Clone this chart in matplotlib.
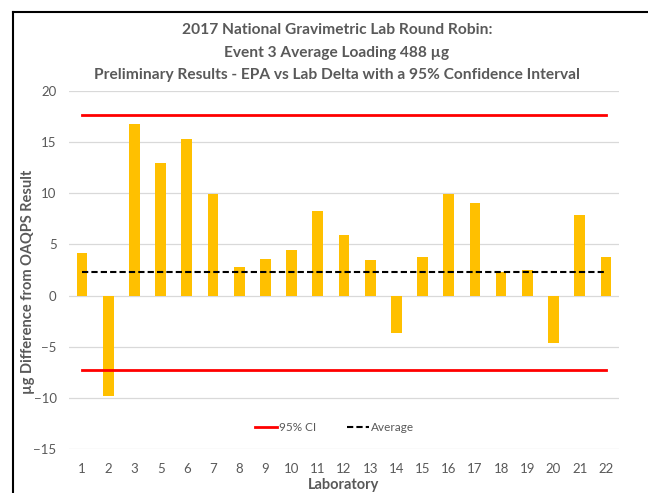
import matplotlib
matplotlib.use("Agg")
import matplotlib.pyplot as plt
from matplotlib.lines import Line2D

plt.rcParams['font.family'] = ['Lato', 'DejaVu Sans']

# data
labs = ['1', '2', '3', '5', '6', '7', '8', '9', '10', '11', '12',
        '13', '14', '15', '16', '17', '18', '19', '20', '21', '22']
delta = [4.2, -9.8, 16.8, 13.0, 15.3, 9.9, 2.75, 3.6, 4.5, 8.3, 5.95,
         3.5, -3.7, 3.75, 9.9, 9.1, 2.35, 2.5, -4.6, 7.9, 3.8]
ci_upper = 17.7
ci_lower = -7.3
average = 2.3

titles = ['2017 National Gravimetric Lab Round Robin:',
          'Event 3 Average Loading 488 \u00b5g',
          'Preliminary Results - EPA vs Lab Delta with a 95% Confidence Interval']

grey = '#595959'

fig = plt.figure(figsize=(6.48, 4.93), dpi=100)
ax = fig.add_axes([0.1065, 0.0892, 0.8487, 0.7262])

x = list(range(len(labs)))
ax.bar(x, delta, width=0.41, color='#FFC000', zorder=2)

ax.plot([x[0], x[-1]], [ci_upper, ci_upper], color='#FF0000', lw=2, zorder=3, label='95% CI')
ax.plot([x[0], x[-1]], [ci_lower, ci_lower], color='#FF0000', lw=2, zorder=3)
ax.plot([x[0], x[-1]], [average, average], color='black', lw=1.5, ls=(0, (3, 1.5)), zorder=3, label='Average')

ax.set_xlim(-0.5, len(labs) - 0.5)
ax.set_ylim(-15, 20)
ax.set_yticks(range(-15, 21, 5))
ax.set_xticks(x)
ax.set_xticklabels(labs)
ax.grid(axis='y', color='#d9d9d9', lw=0.9, zorder=0)
ax.set_axisbelow(True)
for s in ax.spines.values():
    s.set_visible(False)
ax.tick_params(length=0, labelsize=9.5, colors=grey)
ax.tick_params(axis='x', pad=10)
ax.tick_params(axis='y', pad=9)

ax.set_ylabel('\u00b5g Difference from OAQPS Result', fontsize=10.5, fontweight='bold',
              color=grey)
ax.yaxis.set_label_coords(-0.062, 0.466)
ax.set_xlabel('Laboratory', fontsize=10.5, fontweight='bold', color=grey, labelpad=2)

leg = ax.legend(loc='lower center', bbox_to_anchor=(0.483, 0.015), ncol=2, frameon=False,
                fontsize=8.5, handlelength=1.9, handletextpad=0.15, columnspacing=2.6)
for t in leg.get_texts():
    t.set_color(grey)

ys = [30, 53, 75]
for t, yy in zip(titles, ys):
    fig.text(0.52, 1 - yy / 493, t, ha='center', va='center', fontsize=11.2,
             fontweight='bold', color=grey)

# frame around the chart area (only left and top edges visible)
fig.add_artist(Line2D([12.5 / 648, 12.5 / 648], [0, 1 - 12 / 493], color='black', lw=1.5,
                      transform=fig.transFigure))
fig.add_artist(Line2D([12.5 / 648, 1], [1 - 12 / 493, 1 - 12 / 493], color='black', lw=1.5,
                      transform=fig.transFigure))

fig.savefig('out.png', dpi=100)
